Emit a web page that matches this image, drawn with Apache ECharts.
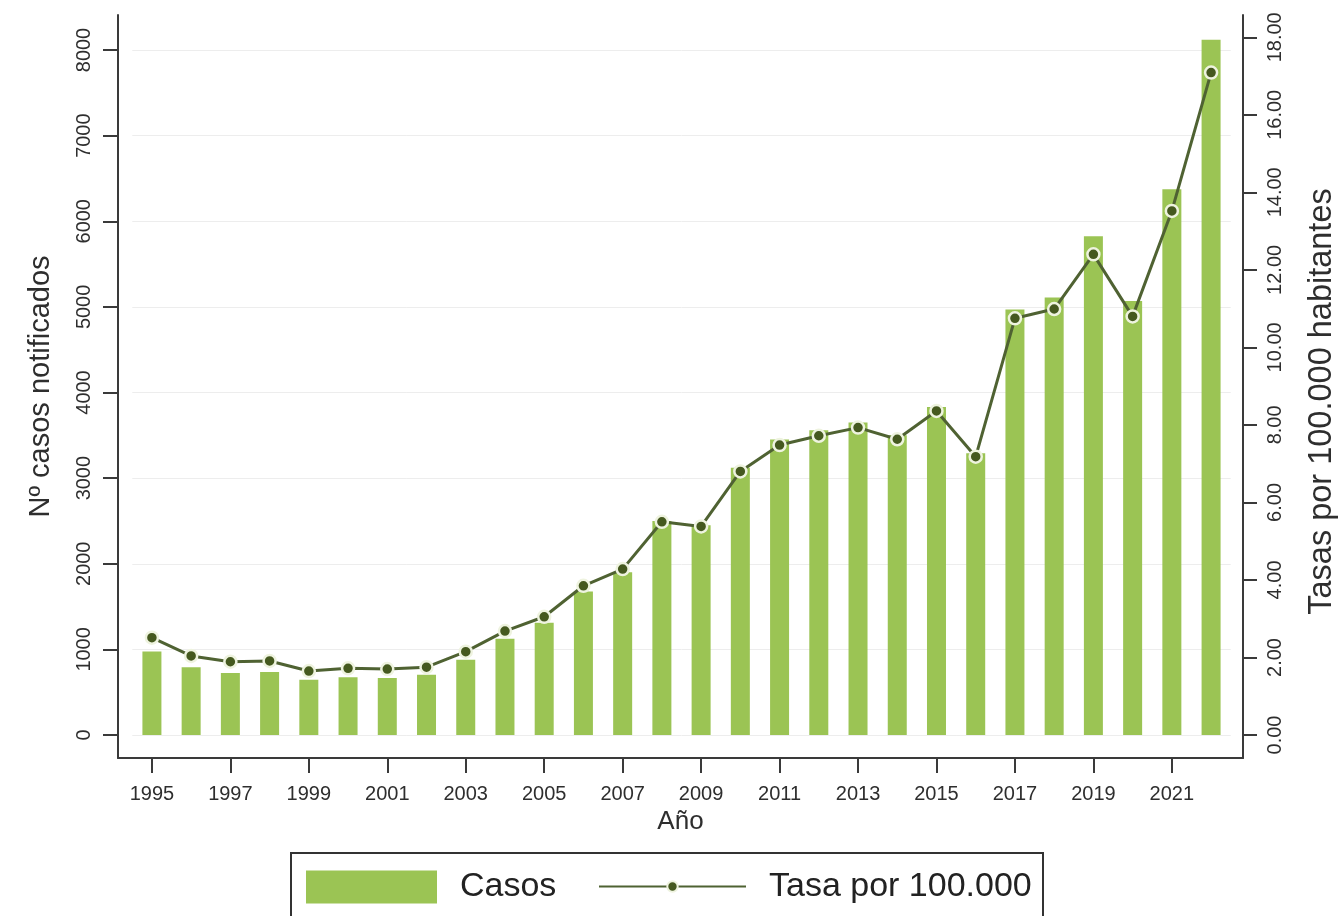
<!DOCTYPE html>
<html>
<head>
<meta charset="utf-8">
<script src="https://cdn.jsdelivr.net/npm/echarts@6/dist/echarts.min.js"></script>
<style>
  html, body { margin: 0; padding: 0; background: #ffffff; }
  #chart { width: 1341px; height: 916px; }
</style>
</head>
<body>
<div id="chart"></div>
<script>
// ---- Data ----
const years = ['1995','1996','1997','1998','1999','2000','2001','2002','2003','2004',
               '2005','2006','2007','2008','2009','2010','2011','2012','2013','2014',
               '2015','2016','2017','2018','2019','2020','2021','2022'];
const casos = [975, 790, 725, 735, 645, 675, 665, 705, 880, 1125,
               1310, 1675, 1900, 2500, 2450, 3120, 3450, 3560, 3650, 3500,
               3830, 3290, 4970, 5110, 5825, 5070, 6375, 8120];
const tasa  = [2.51, 2.04, 1.89, 1.91, 1.65, 1.72, 1.70, 1.75, 2.15, 2.68,
               3.05, 3.85, 4.28, 5.50, 5.38, 6.80, 7.48, 7.72, 7.93, 7.63,
               8.36, 7.18, 10.75, 10.99, 12.40, 10.80, 13.52, 17.09];
const leftTickMax = 8000, leftTickStep = 1000;
const rightTickMax = 18, rightTickStep = 2;
const seriesNames = ['Casos', 'Tasa por 100.000'];
const axisTitles = { x: 'Año', left: 'Nº casos notificados', right: 'Tasas por 100.000 habitantes' };

// ---- Style ----
const FONT = "'Liberation Sans', Arial, sans-serif";
const TXT = '#2e2e2e';
const AX = '#3a3a3a';
const BAR = '#9bc454';
const LINE = '#4f6232';
const DOT = '#45591f';

// layout
const frame = { left: 118, right: 98, top: 15, bottom: 158 };
const dataLR = { left: 132.3, right: 110.3 };
const zeroBottom = 181;

const chart = echarts.init(document.getElementById('chart'), null, { renderer: 'canvas' });

const option = {
  backgroundColor: '#ffffff',
  animation: false,
  textStyle: { fontFamily: FONT },
  grid: [
    { left: frame.left, right: frame.right, top: frame.top, bottom: frame.bottom, outerBoundsMode: 'none', containLabel: false },
    { left: dataLR.left, right: dataLR.right, top: 50, bottom: zeroBottom, outerBoundsMode: 'none', containLabel: false },
    { left: dataLR.left, right: dataLR.right, top: 37.3, bottom: zeroBottom, outerBoundsMode: 'none', containLabel: false }
  ],
  xAxis: [
    { gridIndex: 0, type: 'value', min: 0, max: 1,
      axisLine: { show: true, onZero: false, lineStyle: { color: AX, width: 2 } },
      axisTick: { show: false }, axisLabel: { show: false }, splitLine: { show: false },
      name: axisTitles.x, nameLocation: 'middle', nameGap: 51,
      nameTextStyle: { fontSize: 26, color: TXT, fontFamily: FONT } },
    { gridIndex: 1, type: 'category', data: years, boundaryGap: true,
      offset: (1341 - frame.bottom) - (1341 - zeroBottom),
      axisLine: { show: false, onZero: false },
      axisTick: { show: true, interval: 1, alignWithLabel: true, length: 15, lineStyle: { color: AX, width: 2 } },
      axisLabel: { interval: 1, fontSize: 20, color: TXT, margin: 26, fontFamily: FONT },
      splitLine: { show: false } },
    { gridIndex: 2, type: 'category', data: years, boundaryGap: true, show: false,
      axisLine: { onZero: false } }
  ],
  yAxis: [
    { gridIndex: 0, type: 'value', position: 'left', min: 0, max: 1,
      axisLine: { show: true, onZero: false, lineStyle: { color: AX, width: 2 } },
      axisTick: { show: false }, axisLabel: { show: false }, splitLine: { show: false },
      name: axisTitles.left, nameLocation: 'middle', nameGap: 63,
      nameTextStyle: { fontSize: 29, color: TXT, fontFamily: FONT } },
    { gridIndex: 0, type: 'value', position: 'right', min: 0, max: 1,
      axisLine: { show: true, onZero: false, lineStyle: { color: AX, width: 2 } },
      axisTick: { show: false }, axisLabel: { show: false }, splitLine: { show: false },
      name: axisTitles.right, nameLocation: 'middle', nameGap: 63,
      nameTextStyle: { fontSize: 32.5, color: TXT, fontFamily: FONT, padding: [0, 30, 0, 0] } },
    { gridIndex: 1, type: 'value', position: 'left', offset: dataLR.left - frame.left,
      min: 0, max: leftTickMax, interval: leftTickStep,
      axisLine: { show: false, onZero: false },
      axisTick: { show: true, length: 15, lineStyle: { color: AX, width: 2 } },
      axisLabel: { rotate: 90, fontSize: 20, color: TXT, margin: 24, fontFamily: FONT,
                   formatter: v => String(v) },
      splitLine: { show: true, lineStyle: { color: '#ededed', width: 1 } } },
    { gridIndex: 2, type: 'value', position: 'right', offset: dataLR.right - frame.right,
      min: 0, max: rightTickMax, interval: rightTickStep,
      axisLine: { show: false, onZero: false },
      axisTick: { show: true, length: 14, lineStyle: { color: AX, width: 2 } },
      axisLabel: { rotate: 90, fontSize: 20, color: TXT, margin: 22, fontFamily: FONT,
                   formatter: v => v.toFixed(2) },
      splitLine: { show: false } }
  ],
  legend: [
    { data: [{ name: seriesNames[0], icon: 'rect' }], left: 306, top: 870, padding: 0,
      itemWidth: 131, itemHeight: 33,
      textStyle: { fontSize: 34, color: '#222', fontFamily: FONT, padding: [0, 0, 0, 18] } },
    { data: [seriesNames[1]], left: 598, top: 869.5, padding: 0,
      itemWidth: 147, itemHeight: 13,
      textStyle: { fontSize: 34, color: '#222', fontFamily: FONT, padding: [0, 0, 0, 18] } }
  ],
  graphic: [
    { type: 'rect', shape: { x: 291, y: 853, width: 752, height: 100 },
      style: { fill: 'none', stroke: '#333', lineWidth: 2 }, silent: true }
  ],
  series: [
    { name: seriesNames[0], type: 'bar', xAxisIndex: 1, yAxisIndex: 2, data: casos,
      barWidth: 19, clip: false, itemStyle: { color: BAR } },
    { name: seriesNames[1], type: 'line', xAxisIndex: 2, yAxisIndex: 3, data: tasa,
      clip: false, symbol: 'circle', symbolSize: 12,
      lineStyle: { color: LINE, width: 3 },
      itemStyle: { color: DOT, borderColor: '#eef3df', borderWidth: 2.5 } }
  ]
};
chart.setOption(option);
</script>
</body>
</html>
